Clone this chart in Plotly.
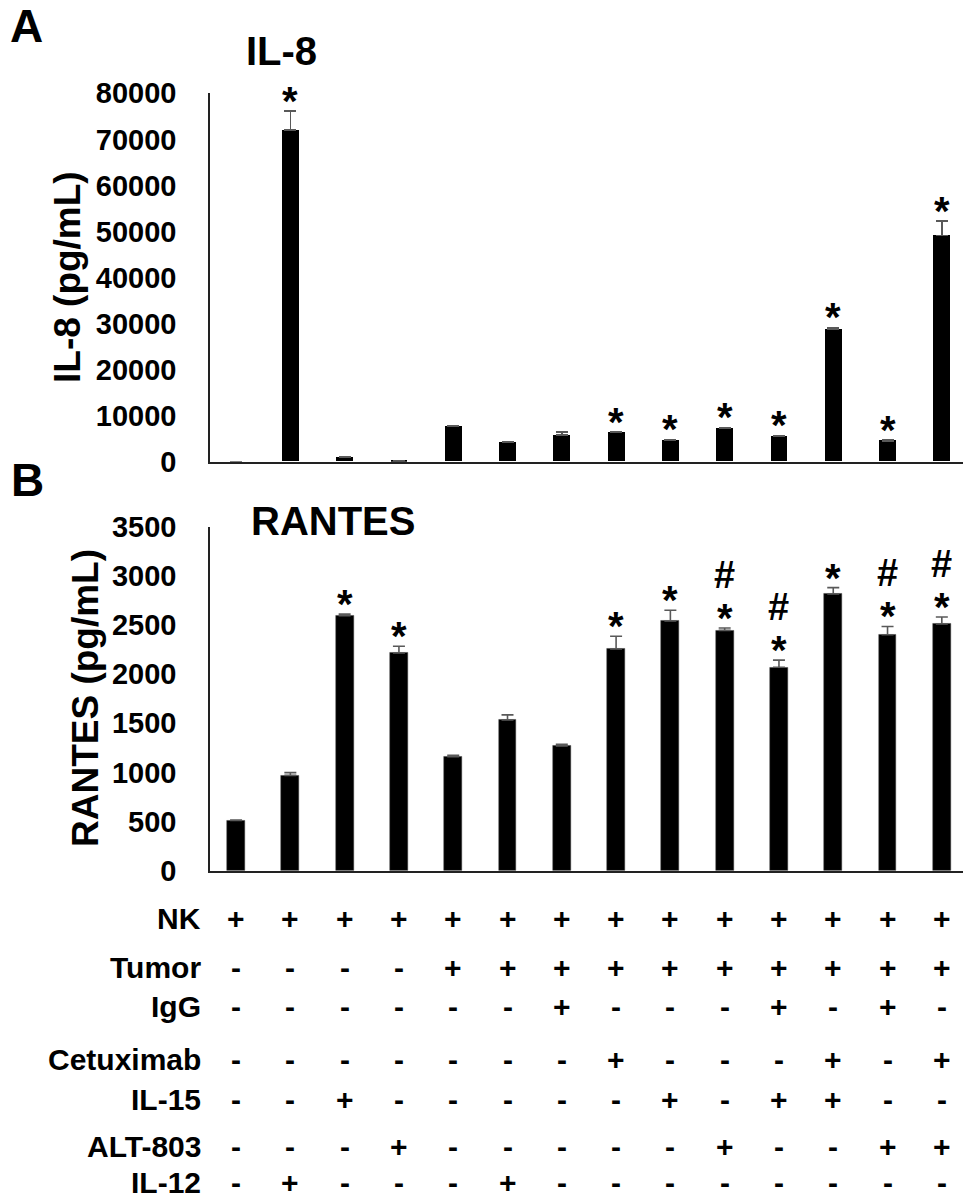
import plotly.graph_objects as go

# ---------------- data ----------------
groups = list(range(14))
il8_values = [0, 72000, 900, 200, 7700, 4150, 5800, 6300, 4700, 7250, 5450, 28800, 4550, 49100]
il8_err = [None, 4100, 150, 50, 200, 150, 700, 200, 150, 200, 250, 350, 250, 3200]
il8_marks = ["", "*", "", "", "", "", "", "*", "*", "*", "*", "*", "*", "*"]

rantes_values = [510, 970, 2595, 2215, 1160, 1535, 1270, 2255, 2540, 2445, 2070, 2815, 2400, 2510]
rantes_err = [5, 28, 15, 68, 15, 50, 15, 130, 110, 25, 72, 65, 85, 72]
rantes_star = ["", "", "*", "*", "", "", "", "*", "*", "*", "*", "*", "*", "*"]
rantes_hash = ["", "", "", "", "", "", "", "", "", "#", "#", "", "#", "#"]

il8_ticks = [0, 10000, 20000, 30000, 40000, 50000, 60000, 70000, 80000]
rantes_ticks = [0, 500, 1000, 1500, 2000, 2500, 3000, 3500]

row_labels = ["NK", "Tumor", "IgG", "Cetuximab", "IL-15", "ALT-803", "IL-12"]
row_signs = [
    "++++++++++++++",
    "----++++++++++",
    "------+---+-+-",
    "-------+---+-+",
    "--+-----+-++--",
    "---+-----+--++",
    "-+---+--------",
]

# ---------------- layout helpers ----------------
W, H = 963, 1201
FONT = "Liberation Sans, Arial, sans-serif"

def py(p):
    return 1 - p / H

def px(p):
    return p / W

fig = go.Figure()

fig.add_trace(go.Bar(
    x=groups, y=il8_values, width=0.31,
    marker=dict(color="black", line=dict(width=0)),
    error_y=dict(type="data", array=il8_err, arrayminus=[0] * 14, symmetric=False,
                 color="#595959", thickness=1.6, width=6),
    xaxis="x", yaxis="y", showlegend=False,
))
fig.add_trace(go.Bar(
    x=groups, y=rantes_values, width=0.33,
    marker=dict(color="black", line=dict(color="#404040", width=0.5)),
    error_y=dict(type="data", array=rantes_err, arrayminus=[0] * 14, symmetric=False,
                 color="#595959", thickness=1.6, width=6),
    xaxis="x2", yaxis="y2", showlegend=False,
))

xr = [-0.48, 13.39]
ax_common = dict(showgrid=False, zeroline=False, showline=True, linecolor="#222222",
                 linewidth=1.5, ticks="", automargin=False)
fig.update_layout(
    width=W, height=H,
    margin=dict(l=0, r=0, t=0, b=0, pad=0),
    paper_bgcolor="white", plot_bgcolor="white",
    font=dict(family=FONT, color="black", weight="bold"),
    bargap=0,
    xaxis=dict(domain=[px(210), 1], range=xr, showticklabels=False, anchor="y", **ax_common),
    yaxis=dict(domain=[py(461.7), py(93.3)], range=[0, 80000], tickvals=il8_ticks,
               ticktext=[str(t) for t in il8_ticks], anchor="x",
               tickfont=dict(size=29, family=FONT, weight="bold"), ticklabelstandoff=26,
               **ax_common),
    xaxis2=dict(domain=[px(210), 1], range=xr, showticklabels=False, anchor="y2", **ax_common),
    yaxis2=dict(domain=[py(870.7), py(526.7)], range=[0, 3500], tickvals=rantes_ticks,
                ticktext=[str(t) for t in rantes_ticks], anchor="x2",
                tickfont=dict(size=29, family=FONT, weight="bold"), ticklabelstandoff=26,
                **ax_common),
)

ann = []
def txt(text, x, y, size, xref="paper", yref="paper", xanchor="center", yanchor="middle",
        yshift=0, angle=0):
    ann.append(dict(text=text, x=x, y=y, xref=xref, yref=yref, xanchor=xanchor,
                    yanchor=yanchor, yshift=yshift, showarrow=False, textangle=angle,
                    font=dict(size=size, family=FONT, color="black", weight="bold")))

# panel letters and titles
txt("A", px(26), py(26), 46)
txt("B", px(27), py(480), 46)
txt("IL-8", px(281), py(51), 40)
txt("RANTES", px(333), py(521), 40)
txt("IL-8 (pg/mL)", px(67), py(277), 37, angle=-90)
txt("RANTES (pg/mL)", px(85), py(698), 37, angle=-90)

# significance marks
for i in groups:
    top = il8_values[i] + (il8_err[i] or 0)
    if il8_marks[i]:
        txt(il8_marks[i], i, top, 40, xref="x", yref="y", yshift=10)
    top2 = rantes_values[i] + rantes_err[i]
    if rantes_star[i]:
        txt(rantes_star[i], i, top2, 40, xref="x2", yref="y2", yshift=10)
    if rantes_hash[i]:
        txt(rantes_hash[i], i, top2, 38, xref="x2", yref="y2", yshift=53)

# condition table
row_y = [918, 967, 1006, 1059, 1099, 1146, 1182]
for r, lab in enumerate(row_labels):
    txt(lab, px(203), py(row_y[r]), 30, xanchor="right")
    for i, s in enumerate(row_signs[r]):
        txt(s, i, py(row_y[r]), 30, xref="x2")

fig.update_layout(annotations=ann)
fig.write_html("out.html", config={"displayModeBar": False},
               post_script="document.body.style.margin='0';")
